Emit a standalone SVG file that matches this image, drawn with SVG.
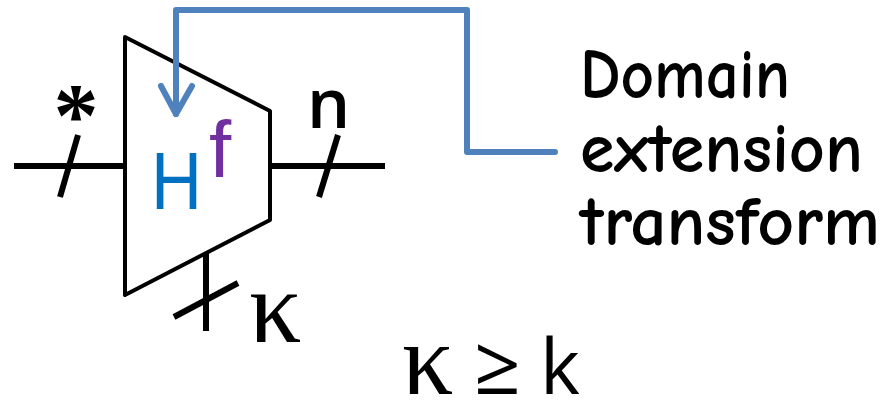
<svg xmlns="http://www.w3.org/2000/svg" width="892" height="402" viewBox="0 0 892 402">
<style>
.w{stroke:#000;stroke-width:6;fill:none}
.o{stroke:#000;stroke-width:4;fill:#fff;stroke-linejoin:round}
.c{stroke:#4F81BD;stroke-width:6;fill:none;stroke-linejoin:round;stroke-linecap:round}
.lbl{font-family:"Open Sans","Liberation Sans",sans-serif;fill:#000}
.gr{font-family:"Liberation Serif",serif;fill:#000}
.cm{font-family:"Comic Neue","DejaVu Sans",sans-serif;font-size:70px;font-weight:bold;fill:#000}
</style>
<rect width="892" height="402" fill="#fff"/>
<g id="wires">
<line class="w" x1="14" y1="166" x2="125" y2="166"/>
<line class="w" x1="60" y1="197" x2="78" y2="135"/>
<line class="w" x1="270" y1="166" x2="385" y2="166"/>
<line class="w" x1="319" y1="197" x2="338" y2="135"/>
<line class="w" x1="206" y1="250" x2="206" y2="331"/>
<line class="w" x1="174" y1="317" x2="238" y2="283"/>
</g>
<g id="hash">
<polygon class="o" points="125,37 270,111 270,220 125,295"/>
<text x="151" y="209" font-family="'Liberation Sans',sans-serif" font-size="82" fill="#0070C0" textLength="51" lengthAdjust="spacingAndGlyphs">H</text>
<text x="209" y="177" font-family="'Liberation Sans',sans-serif" font-size="80" fill="#7030A0">f</text>
</g>
<g id="labels">
<text class="gr" x="76" y="146" font-size="90" font-weight="bold" text-anchor="middle">*</text>
<text class="lbl" x="307" y="128" font-size="68" font-weight="600">n</text>
<text class="gr" x="249" y="342" font-size="104">κ</text>
<text class="gr" x="402" y="394" font-size="102">κ</text>
<text class="lbl" x="474" y="394" font-size="82">≥</text>
<text class="lbl" x="540" y="394" font-size="76">k</text>
</g>
<g id="note">
<text class="cm" x="580" y="98" textLength="210" lengthAdjust="spacingAndGlyphs">Domain</text>
<text class="cm" x="580" y="172" textLength="283" lengthAdjust="spacingAndGlyphs">extension</text>
<text class="cm" x="580" y="245" textLength="300" lengthAdjust="spacingAndGlyphs">transform</text>
</g>
<g id="connectors">
<path class="c" d="M555,152 H467 V10 H176 V114"/>
<path class="c" d="M161,86 L176,114 L192,86"/>
</g>
</svg>
